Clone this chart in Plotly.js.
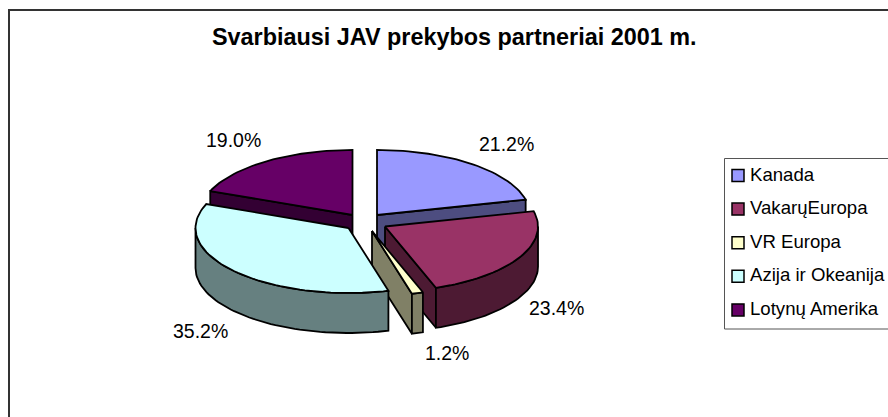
<!DOCTYPE html>
<html><head><meta charset="utf-8">
<script src="https://cdn.plot.ly/plotly-3.0.1.min.js"></script>
<style>html,body{margin:0;padding:0;background:#fff;overflow:hidden}#c{width:888px;height:417px}</style>
</head><body><div id="c"></div>
<script>
const chartTitle = 'Svarbiausi JAV prekybos partneriai 2001 m.';
const categories = ['Kanada', 'VakarųEuropa', 'VR Europa', 'Azija ir Okeanija', 'Lotynų Amerika'];
const values = [21.2, 23.4, 1.2, 35.2, 19.0];
const topColors = ['#9999FF', '#993366', '#FFFFCC', '#CCFFFF', '#660066'];
const sideColors = ['#4D4D80', '#4D1A33', '#808066', '#668080', '#330033'];
const apexX = [377, 385, 372, 348.5, 352.5];
const apexY = [215, 226.5, 231, 228, 215];
const labelX = [506, 556, 447, 200, 233];
const labelY = [144, 308, 353, 331, 140];
const drawOrder = [4, 0, 1, 2, 3];

const RX = 153, RY = 65, DEPTH = 40, FONT = 'Liberation Sans, Arial, sans-serif', INK = '#000';
const rad = d => d * Math.PI / 180;
const total = values.reduce((a, b) => a + b, 0);
let acc = 0;
const starts = [], ends = [];
values.forEach(v => { starts.push(acc); acc += v / total * 360; ends.push(acc); });

function rim(i, deg, drop) {
  return [apexX[i] + RX * Math.sin(rad(deg)), apexY[i] - RY * Math.cos(rad(deg)) + drop];
}
function arc(i, a0, a1, drop) {
  const n = Math.max(2, Math.ceil((a1 - a0) / 2)), pts = [];
  for (let k = 0; k <= n; k++) pts.push(rim(i, a0 + (a1 - a0) * k / n, drop));
  return pts;
}
function poly(pts, fill, name) {
  const xs = pts.map(p => p[0]), ys = pts.map(p => p[1]);
  xs.push(xs[0]); ys.push(ys[0]);
  return {type: 'scatter', mode: 'lines', x: xs, y: ys, fill: 'toself', fillcolor: fill, name,
    line: {color: INK, width: 1.8, shape: 'linear'}, hoverinfo: 'skip', showlegend: false};
}
const traces = [];
drawOrder.forEach(i => {
  const a0 = starts[i], a1 = ends[i], c = [apexX[i], apexY[i]], cd = [apexX[i], apexY[i] + DEPTH];
  if (a1 > 0 && a1 < 180) {
    const e = rim(i, a1, 0), ed = rim(i, a1, DEPTH);
    traces.push(poly([c, e, ed, cd], sideColors[i], categories[i]));
  }
  if (a0 > 180 && a0 < 360) {
    const e = rim(i, a0, 0), ed = rim(i, a0, DEPTH);
    traces.push(poly([c, e, ed, cd], sideColors[i], categories[i]));
  }
  const s0 = Math.max(a0, 90), s1 = Math.min(a1, 270);
  if (s1 > s0) {
    traces.push(poly(arc(i, s0, s1, 0).concat(arc(i, s0, s1, DEPTH).reverse()), sideColors[i], categories[i]));
  }
  traces.push(poly([c].concat(arc(i, a0, a1, 0)), topColors[i], categories[i]));
});

const annotations = [{xref: 'x', yref: 'y', x: 454, y: 37, text: '<b>' + chartTitle + '</b>', showarrow: false,
  font: {family: FONT, size: 23.4, color: '#000'}, xanchor: 'center', yanchor: 'middle'}];
values.forEach((v, i) => annotations.push({xref: 'x', yref: 'y', x: labelX[i], y: labelY[i], text: v.toFixed(1) + '%',
  showarrow: false, font: {family: FONT, size: 19.5, color: '#000'}, xanchor: 'center', yanchor: 'middle'}));

const shapes = [
  {type: 'rect', xref: 'x', yref: 'y', x0: 9, y0: 10, x1: 900, y1: 430, line: {color: '#333', width: 2}, fillcolor: 'rgba(0,0,0,0)', layer: 'below'},
  {type: 'rect', xref: 'x', yref: 'y', x0: 724.5, y0: 158.5, x1: 900, y1: 329, line: {color: '#555', width: 1}, fillcolor: '#fff', layer: 'below'}
];
categories.forEach((name, i) => {
  const cy = 175.5 + i * 33.6;
  shapes.push({type: 'rect', xref: 'x', yref: 'y', x0: 732, y0: cy - 6, x1: 744, y1: cy + 6,
    line: {color: '#000', width: 1.5}, fillcolor: topColors[i]});
  annotations.push({xref: 'x', yref: 'y', x: 748, y: cy - 1.5, text: name, showarrow: false,
    font: {family: FONT, size: 18.6, color: '#000'}, xanchor: 'left', yanchor: 'middle'});
});

Plotly.newPlot('c', traces, {
  width: 888, height: 417, margin: {l: 0, r: 0, t: 0, b: 0}, showlegend: false,
  paper_bgcolor: '#fff', plot_bgcolor: '#fff',
  xaxis: {range: [0, 888], visible: false, fixedrange: true},
  yaxis: {range: [417, 0], visible: false, fixedrange: true},
  shapes, annotations
}, {displayModeBar: false, staticPlot: true});
</script></body></html>
